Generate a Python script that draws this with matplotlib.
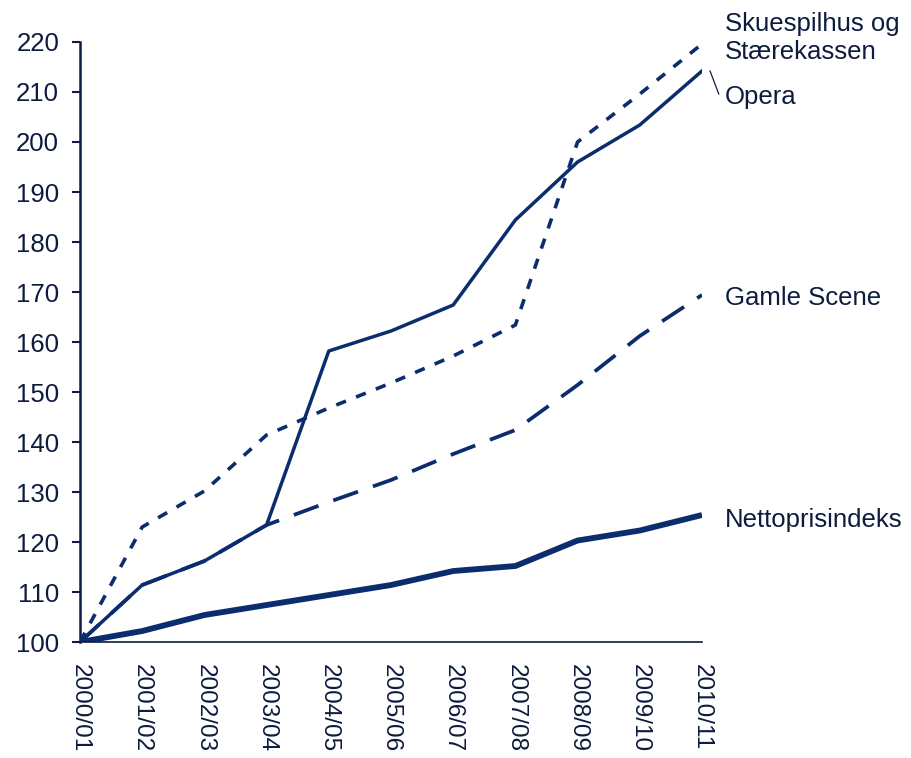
import numpy as np
import matplotlib.pyplot as plt

plt.rcParams['font.family'] = ['Liberation Sans', 'DejaVu Sans']

seasons = ["2000/01", "2001/02", "2002/03", "2003/04", "2004/05", "2005/06",
           "2006/07", "2007/08", "2008/09", "2009/10", "2010/11"]
opera = [100, 111.4, 116.2, 123.4, 158.2, 162.2, 167.4, 184.4, 196.0, 203.4, 214.2]
skuespilhus = [100, 123.0, 130.2, 141.4, 146.8, 151.8, 157.2, 163.4, 200.0, 209.6, 219.6]
gamle_scene = [100, 111.4, 116.2, 123.4, 128.0, 132.4, 137.6, 142.4, 151.4, 161.2, 169.4]
nettopris = [100, 102.2, 105.4, 107.4, 109.4, 111.4, 114.2, 115.2, 120.3, 122.3, 125.4]

line_col = "#0b2d6e"
text_col = "#0d1b3e"

fig = plt.figure(figsize=(9.12, 7.58), dpi=100)
ax = fig.add_axes([0.0877, 0.153, 0.682, 0.7916])
x = np.arange(len(seasons))

ax.plot(x, nettopris, color=line_col, lw=4.2, solid_capstyle="butt", solid_joinstyle="round")
ax.plot(x, gamle_scene, color=line_col, lw=2.7, dashes=(7.0, 4.2), dash_capstyle="butt")
ax.plot(x, skuespilhus, color=line_col, lw=2.6, dashes=(2.9, 3.0), dash_capstyle="butt")
ax.plot(x, opera, color=line_col, lw=2.5, solid_joinstyle="round")

ax.set_xlim(0, 10)
ax.set_ylim(100, 220)
ax.set_yticks(range(100, 221, 10))
ax.set_xticks(x)
ax.set_xticklabels(seasons, rotation=-90, va="top", ha="center")
ax.tick_params(axis="x", length=0, pad=16, labelsize=17.5, colors=text_col)
ax.tick_params(axis="y", length=6, width=1.5, direction="out", pad=9,
               labelsize=18.5, colors=text_col)
for s in ["top", "right"]:
    ax.spines[s].set_visible(False)
ax.spines["left"].set_color(text_col)
ax.spines["left"].set_linewidth(1.8)
ax.spines["bottom"].set_color(text_col)
ax.spines["bottom"].set_linewidth(1.2)
ax.spines["left"].set_zorder(0.5)

# series labels at the right end
lab = dict(fontsize=18.5, color=text_col, clip_on=False, va="center", ha="left")
ax.text(10.37, 220.8, "Skuespilhus og\nStærekassen", linespacing=1.25, **lab)
ax.text(10.37, 209.0, "Opera", **lab)
ax.plot([10.13, 10.27], [214.2, 209.6], color=text_col, lw=0.9, clip_on=False)
ax.text(10.37, 168.8, "Gamle Scene", **lab)
ax.text(10.37, 124.4, "Nettoprisindeks", **lab)

fig.savefig("out.png", dpi=100)
